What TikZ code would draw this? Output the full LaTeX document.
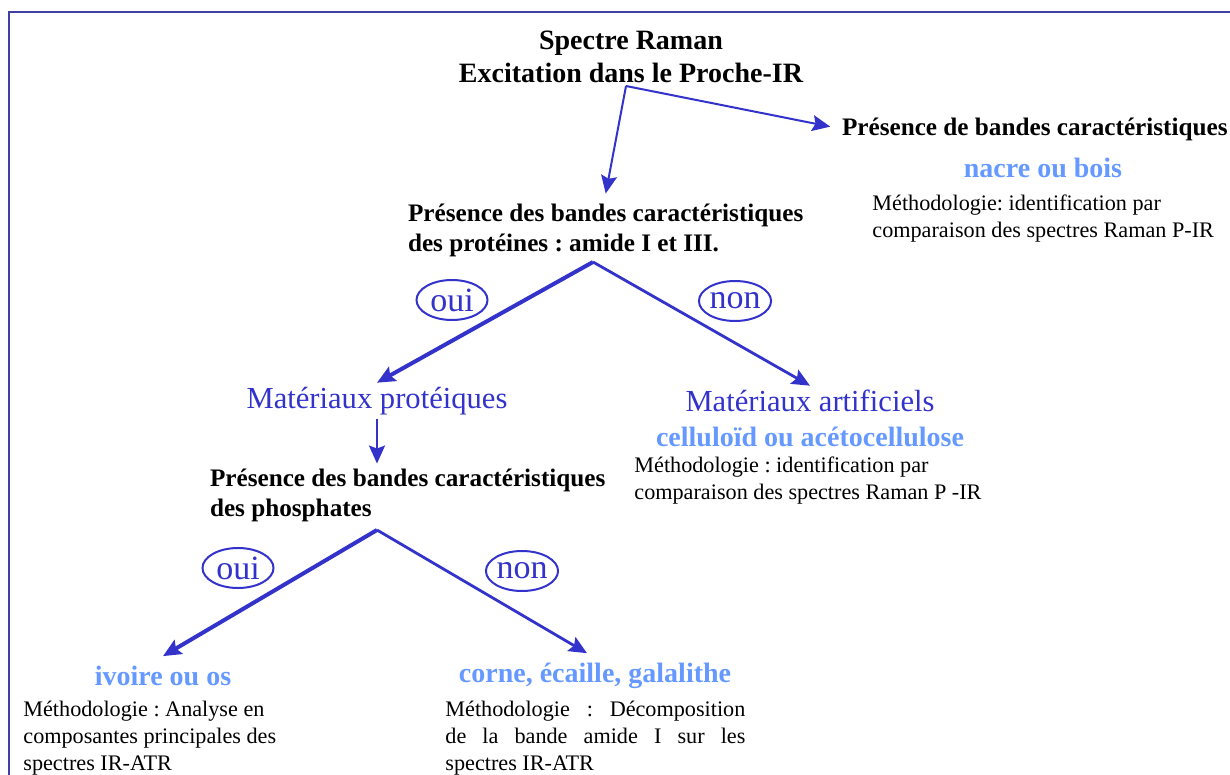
\documentclass[tikz,border=0pt]{standalone}
\usepackage{fontspec}
\setmainfont{Liberation Serif}
\usepackage{tikz}
\usetikzlibrary{positioning,arrows.meta,shapes.geometric}
\usepackage{xcolor}
\definecolor{arrowblue}{RGB}{51,51,204}
\definecolor{lightblue}{RGB}{102,153,255}
\definecolor{frameblue}{RGB}{64,64,160}
\frenchspacing

\begin{document}
\begin{tikzpicture}[x=0.5pt,y=-0.5pt,>={Stealth[length=9pt,width=8pt,inset=1.5pt]},
  question/.style={inner sep=0pt,outer sep=4pt,align=left,font=\bfseries\fontsize{12.6}{15}\selectfont},
  method/.style={inner sep=0pt,align=left,font=\fontsize{11.1}{13.5}\selectfont},
  matter/.style={inner sep=2pt,text=arrowblue,font=\fontsize{15.3}{18}\selectfont},
  sample/.style={inner sep=2pt,outer sep=3pt,text=lightblue,font=\bfseries\fontsize{14}{16}\selectfont},
  answer/.style={ellipse,draw=arrowblue,line width=1pt,text=arrowblue,inner sep=0pt,
    minimum width=35.5pt,minimum height=20pt,font=\fontsize{17}{18}\selectfont},
  link/.style={->,draw=arrowblue,line width=1pt},
  yes/.style={->,draw=arrowblue,line width=2pt},
  no/.style={->,draw=arrowblue,line width=1.4pt}]
\useasboundingbox (0,0) rectangle (1230,775);
\draw[frameblue,line width=1pt] (9,775) -- (9,12) -- (1230,12);

% first test
\node[inner sep=1pt,align=center,font=\bfseries\fontsize{14}{16.5}\selectfont] (title) at (631,57) {Spectre Raman\\Excitation dans le Proche-IR};
\node[question,anchor=west,outer sep=0pt] (other) at (842,129) {Présence de bandes caractéristiques};
\node[sample,outer sep=0pt] (nacre) at (1043,168) {nacre ou bois};
\node[method,anchor=west] (mnacre) at (872,219) {Méthodologie: identification par\\comparaison des spectres Raman P-IR};
\node[question,anchor=west,outer sep=0pt] (prot) at (408,230) {Présence des bandes caractéristiques\\des protéines : amide I et III.};
\coordinate (start) at (626,86);
\draw[link] (start) -- ([yshift=5pt]prot.north);
\draw[link,shorten >=6pt] (start) -- (other.west);

\coordinate (fork1) at (593,262);
\node[answer] (oui1) at (452,300) {oui};
\node[answer] (non1) at (735,301) {non};
\node[matter] (mprot) at (377,401) {Matériaux protéiques};
\node[matter] (mart) at (810,401) {Matériaux artificiels};
\node[sample,inner sep=0pt,outer sep=0pt] (cellu) at (810,437) {celluloïd ou acétocellulose};
\node[method,anchor=west] (mcellu) at (634,481) {Méthodologie : identification par\\comparaison des spectres Raman P -IR};
\draw[yes] (fork1) -- (mprot.north);
\draw[no] (fork1) -- (mart.north);

% second test
\node[question,anchor=west,outer sep=0pt] (phos) at (210,495) {Présence des bandes caractéristiques\\des phosphates};
\draw[link] (mprot.south) -- ([yshift=2.5pt]mprot.south |- phos.north);
\coordinate (fork2) at (377,530);
\node[answer] (oui2) at (238,568) {oui};
\node[answer] (non2) at (522,571) {non};
\node[sample] (ivoire) at (163,676) {ivoire ou os};
\node[sample] (corne) at (595,676) {corne, écaille, galalithe};
\draw[yes] (fork2) -- (ivoire.north);
\draw[no] (fork2) -- ([xshift=-4pt]corne.north);
\node[method,anchor=west] (mivoire) at (23,738) {Méthodologie : Analyse en\\composantes principales des\\spectres IR-ATR};
\node[method,anchor=west] (mcorne) at (445,738) {\makebox[150pt][s]{Méthodologie : Décomposition}\\\makebox[150pt][s]{de la bande amide I sur les}\\spectres IR-ATR};
\end{tikzpicture}
\end{document}
